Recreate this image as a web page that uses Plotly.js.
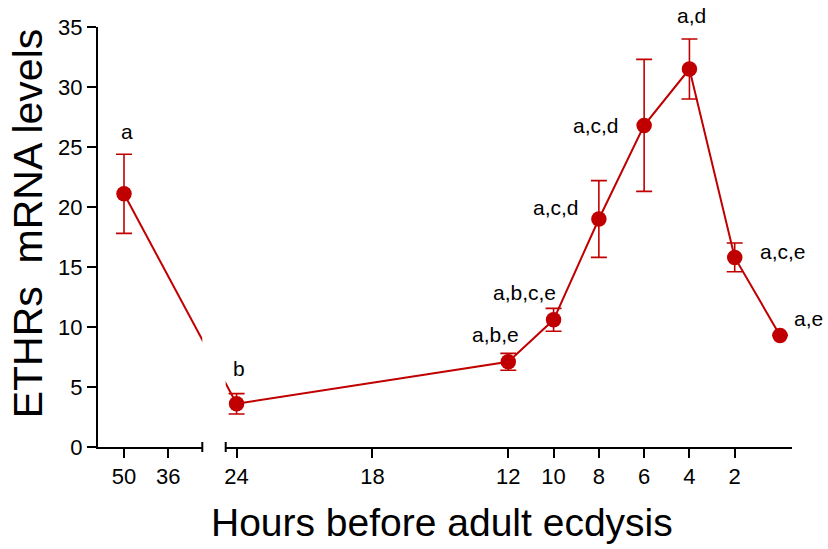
<!DOCTYPE html>
<html>
<head>
<meta charset="utf-8">
<script src="https://cdn.plot.ly/plotly-3.0.1.min.js"></script>
<style>html,body{margin:0;padding:0;background:#fff;}#chart{width:828px;height:549px;}</style>
</head>
<body>
<div id="chart"></div>
<script>
// ---- data ----
const hours = [50, 24, 12, 10, 8, 6, 4, 2, 0];
const mrnaLevels = [21.1, 3.6, 7.1, 10.6, 19.0, 26.8, 31.5, 15.8, 9.3];
const semValues = [3.3, 0.85, 0.7, 0.95, 3.2, 5.5, 2.5, 1.2, 0];
const sigLetters = ['a', 'b', 'a,b,e', 'a,b,c,e', 'a,c,d', 'a,c,d', 'a,d', 'a,c,e', 'a,e'];
const leftTicks = [50, 36];
const rightTicks = [24, 18, 12, 10, 8, 6, 4, 2];

// ---- layout geometry ----
const W = 828, H = 549, mL = 98, mR = 36, mT = 26.7, mB = 102.3;
const plotW = W - mL - mR;
const plotH = H - mT - mB;
const dom1 = [0, (202.3 - mL) / plotW];
const dom2 = [(225.7 - mL) / plotW, 1];
const r1 = [58.22, 25.25];
const r2 = [24.48, -0.53];
const RED = '#c00000';
const FONT = 'Liberation Sans, Arial, sans-serif';

function toPx(dom, rng, v) {
  const a = mL + dom[0] * plotW, b = mL + dom[1] * plotW;
  return a + (v - rng[0]) / (rng[1] - rng[0]) * (b - a);
}
// virtual continuous scale for the connector across the axis break
const pA = toPx(dom1, r1, hours[0]);
const pB = toPx(dom2, r2, hours[1]);
const k = (pB - pA) / (hours[1] - hours[0]);
function virt(p) { return hours[0] + (p - pA) / k; }
const r3 = [virt(mL + dom1[0] * plotW), virt(mL + dom1[1] * plotW)];
const r4 = [virt(mL + dom2[0] * plotW), virt(mL + dom2[1] * plotW)];

const nL = 1; // points in left segment
const errStyle = { type: 'data', visible: true, color: RED, thickness: 1.6, width: 8 };
const markerStyle = { size: 15.5, color: RED };

const traces = [
  { x: hours.slice(0, nL), y: mrnaLevels.slice(0, nL), xaxis: 'x', yaxis: 'y', mode: 'markers',
    marker: markerStyle, error_y: Object.assign({ array: semValues.slice(0, nL) }, errStyle) },
  { x: hours.slice(nL), y: mrnaLevels.slice(nL), xaxis: 'x2', yaxis: 'y', mode: 'lines+markers',
    line: { color: RED, width: 2 }, marker: markerStyle,
    error_y: Object.assign({ array: semValues.slice(nL) }, errStyle) },
  { x: hours.slice(0, 2), y: mrnaLevels.slice(0, 2), xaxis: 'x3', yaxis: 'y', mode: 'lines',
    line: { color: RED, width: 2 } },
  { x: hours.slice(0, 2), y: mrnaLevels.slice(0, 2), xaxis: 'x4', yaxis: 'y', mode: 'lines',
    line: { color: RED, width: 2 } }
];

// letter label offsets (pixels) relative to each point
const labelShift = [[3, 62], [2, 35], [-13, 27], [-29, 27], [-43, 12], [-48, 0], [2, 54], [48, 6], [28, 17]];
const annotations = hours.map((h, i) => ({
  x: h, y: mrnaLevels[i], xref: i < nL ? 'x' : 'x2', yref: 'y', xanchor: 'center', yanchor: 'middle',
  text: sigLetters[i], showarrow: false, xshift: labelShift[i][0], yshift: labelShift[i][1],
  font: { family: FONT, size: 21, color: '#000' }
}));
annotations.push({
  text: 'ETHRs  mRNA levels', xref: 'paper', yref: 'paper', xanchor: 'center', yanchor: 'middle',
  x: (28 - mL) / plotW, y: (H - mB - 223) / plotH, textangle: -90, showarrow: false,
  font: { family: FONT, size: 41, color: '#000' }
});
annotations.push({
  text: 'Hours before adult ecdysis', xref: 'paper', yref: 'paper', xanchor: 'center', yanchor: 'middle',
  x: (442 - mL) / plotW, y: (H - mB - 522) / plotH, showarrow: false,
  font: { family: FONT, size: 39, color: '#000' }
});

const axCommon = {
  showline: true, linecolor: '#000', linewidth: 2, ticks: 'outside', ticklen: 9, tickwidth: 2,
  tickcolor: '#000', showgrid: false, zeroline: false, fixedrange: true,
  tickfont: { family: FONT, size: 22, color: '#000' }
};

const layout = {
  width: W, height: H,
  margin: { l: mL, r: mR, t: mT, b: mB, autoexpand: false },
  paper_bgcolor: '#fff', plot_bgcolor: 'rgba(0,0,0,0)',
  showlegend: false,
  xaxis: Object.assign({}, axCommon, { domain: dom1, range: r1, anchor: 'y',
    tickmode: 'array', tickvals: leftTicks, ticktext: leftTicks.map(String) }),
  xaxis2: Object.assign({}, axCommon, { domain: dom2, range: r2, anchor: 'y',
    tickmode: 'array', tickvals: rightTicks, ticktext: rightTicks.map(String) }),
  xaxis3: { overlaying: 'x', range: r3, visible: false, fixedrange: true, anchor: 'y' },
  xaxis4: { overlaying: 'x2', range: r4, visible: false, fixedrange: true, anchor: 'y' },
  yaxis: Object.assign({}, axCommon, { domain: [0, 1], range: [0, 35], anchor: 'x',
    tickmode: 'linear', tick0: 0, dtick: 5 }),
  annotations: annotations,
  shapes: [
    { type: 'line', xref: 'x domain', x0: 1, x1: 1, yref: 'paper', ysizemode: 'pixel', yanchor: 0,
      y0: -5, y1: 5, line: { color: '#000', width: 2 } },
    { type: 'line', xref: 'x2 domain', x0: 0, x1: 0, yref: 'paper', ysizemode: 'pixel', yanchor: 0,
      y0: -5, y1: 5, line: { color: '#000', width: 2 } }
  ]
};

Plotly.newPlot('chart', traces, layout, { displayModeBar: false, staticPlot: true });
</script>
</body>
</html>
